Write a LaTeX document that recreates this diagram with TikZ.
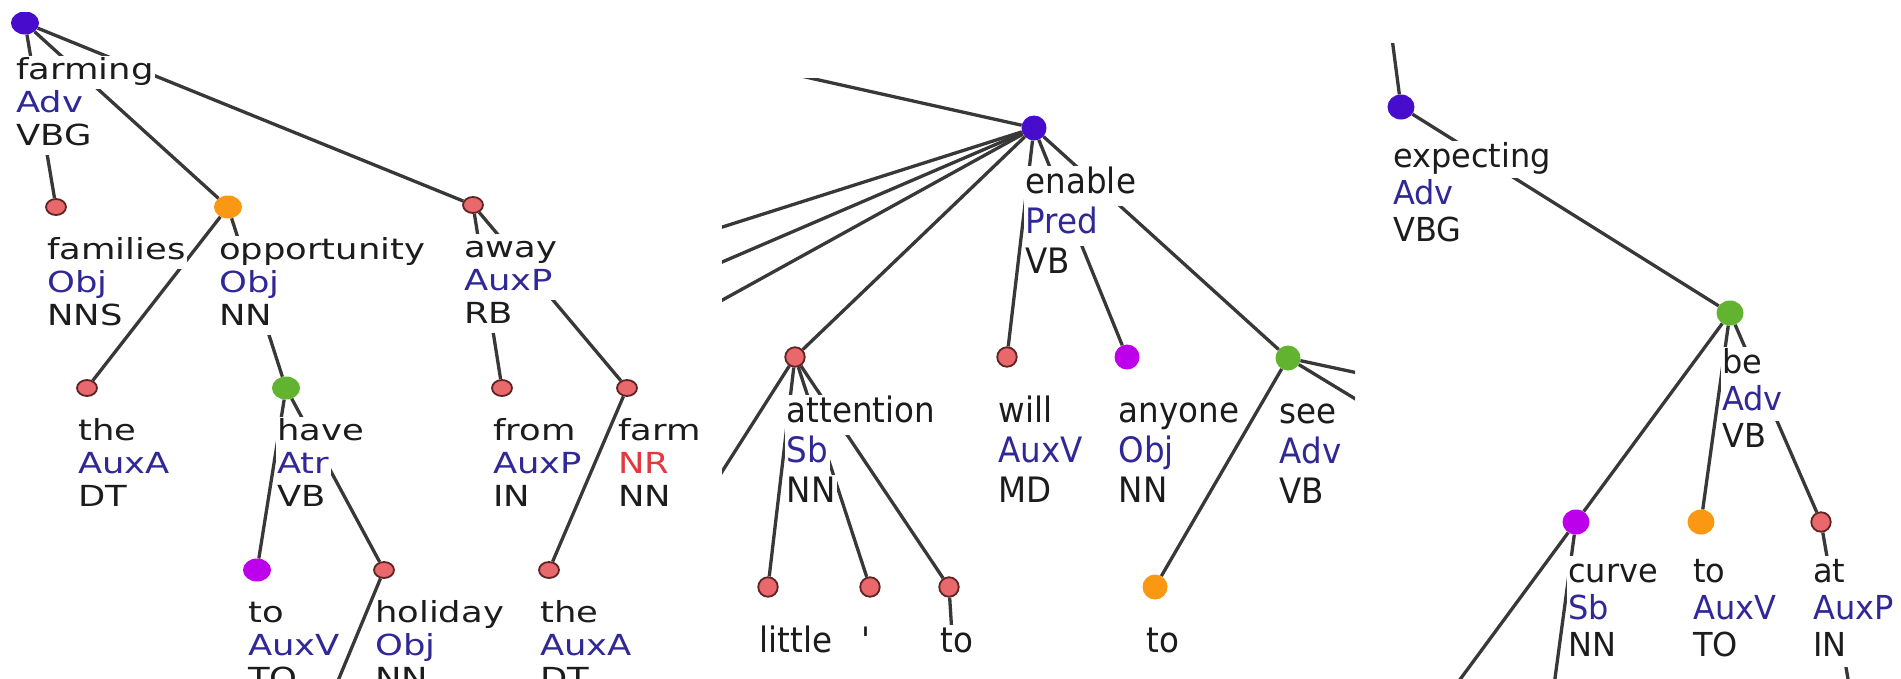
\documentclass[tikz,border=0pt]{standalone}
\usepackage{fontspec}
\usepackage{tikz}
\usetikzlibrary{positioning,shapes.geometric}

\newfontfamily\fontA[FakeStretch=1.22]{DejaVu Sans}
\newfontfamily\fontB[FakeStretch=0.93]{DejaVu Sans}
\newfontfamily\fontC[FakeStretch=0.97]{DejaVu Sans}

\definecolor{nodeblue}{RGB}{72,12,205}
\definecolor{nodered}{RGB}{232,104,108}
\definecolor{nodeline}{RGB}{95,35,35}
\definecolor{nodeorange}{RGB}{250,152,20}
\definecolor{nodegreen}{RGB}{98,180,48}
\definecolor{nodeviolet}{RGB}{188,0,235}
\definecolor{linegray}{RGB}{56,56,56}
\definecolor{wordcol}{RGB}{28,28,28}
\definecolor{funcol}{RGB}{48,40,150}
\definecolor{nrcol}{RGB}{228,55,62}

\setlength{\fboxsep}{0pt}
% one label line on a white strip
\newcommand{\wb}[1]{\colorbox{white}{\kern1.5pt\strut#1\kern1.5pt}}
% word, function, tag
\newcommand{\tri}[3]{\begin{tabular}{@{}l@{}}\wb{#1}\\\wb{\color{funcol}#2}\\\wb{#3}\end{tabular}}

\begin{document}
\begin{tikzpicture}[x=1pt, y=-1pt, every edge/.style={draw=linegray, line width=3.3pt}]
	\tikzstyle{reddot}    = [ellipse,inner sep=0pt,dotsmall,fill=nodered,draw=nodeline,line width=1.8pt]
	\tikzstyle{bluedot}   = [ellipse,inner sep=0pt,dotbig,fill=nodeblue]
	\tikzstyle{orangedot} = [ellipse,inner sep=0pt,dotbig,fill=nodeorange]
	\tikzstyle{greendot}  = [ellipse,inner sep=0pt,dotbig,fill=nodegreen]
	\tikzstyle{violetdot} = [ellipse,inner sep=0pt,dotbig,fill=nodeviolet]
	\tikzstyle{lab}       = [inner sep=0pt,text=wordcol]
	\tikzset{
		labA/.style={lab,font=\fontA\fontsize{29}{33}\selectfont,below right=28.8pt and -10.5pt of #1.center},
		labB/.style={lab,font=\fontB\fontsize{35}{40}\selectfont,below right=37.6pt and -10pt of #1.center},
		labC/.style={lab,font=\fontC\fontsize{33}{37}\selectfont,below right=34.1pt and -9.5pt of #1.center}
	}

	\useasboundingbox (0,0) rectangle (1901,678);
	\fill[white] (0,0) rectangle (1901,678);

	% left tree
	\begin{scope}[dotbig/.style={minimum width=28pt,minimum height=23pt},
	              dotsmall/.style={minimum width=20pt,minimum height=16pt}]
		\clip (0,12) rectangle (700,678);
		\node[bluedot]   (farming)     at (25,23)   {};
		\node[reddot]    (families)    at (56,207)  {};
		\node[orangedot] (opportunity) at (228,207) {};
		\node[reddot]    (away)        at (473,205) {};
		\node[reddot]    (the)         at (87,388)  {};
		\node[greendot]  (have)        at (286,388) {};
		\node[reddot]    (from)        at (502,388) {};
		\node[reddot]    (farm)        at (627,388) {};
		\node[violetdot] (toV)         at (257,570) {};
		\node[reddot]    (holiday)     at (384,570) {};
		\node[reddot]    (theB)        at (549,570) {};
		\coordinate (holiday-dn) at (330,700);

		\path (farming) edge (families);
		\path (farming) edge (opportunity);
		\path (farming) edge (away);
		\path (opportunity) edge (the);
		\path (opportunity) edge (have);
		\path (away) edge (from);
		\path (away) edge (farm);
		\path (have) edge (toV);
		\path (have) edge (holiday);
		\path (farm) edge (theB);
		\path (holiday) edge (holiday-dn);

		\node[labA=farming,yshift=-4pt] (farming-l) {\tri{farming}{Adv}{VBG}};
		\node[labA=families]    (families-l)    {\tri{families}{Obj}{NNS}};
		\node[labA=opportunity] (opportunity-l) {\tri{opportunity}{Obj}{NN}};
		\node[labA=away]        (away-l)        {\tri{away}{AuxP}{RB}};
		\node[labA=the]         (the-l)         {\tri{the}{AuxA}{DT}};
		\node[labA=have]        (have-l)        {\tri{have}{Atr}{VB}};
		\node[labA=from]        (from-l)        {\tri{from}{AuxP}{IN}};
		\node[labA=farm]        (farm-l)        {\tri{farm}{\color{nrcol}NR}{NN}};
		\node[labA=toV]         (toV-l)         {\tri{to}{AuxV}{TO}};
		\node[labA=holiday]     (holiday-l)     {\tri{holiday}{Obj}{NN}};
		\node[labA=theB]        (theB-l)        {\tri{the}{AuxA}{DT}};
	\end{scope}

	% middle tree
	\begin{scope}[dotbig/.style={minimum size=25pt},
	              dotsmall/.style={minimum size=19.5pt}]
		\clip (722,78) rectangle (1355,678);
		\node[bluedot]   (enable)    at (1034,128) {};
		\node[reddot]    (attention) at (795,357)  {};
		\node[reddot]    (will)      at (1007,357) {};
		\node[violetdot] (anyone)    at (1127,357) {};
		\node[greendot]  (see)       at (1288,358) {};
		\node[reddot]    (little)    at (768,587)  {};
		\node[reddot]    (apos)      at (870,587)  {};
		\node[reddot]    (toA)       at (949,587)  {};
		\node[orangedot] (toS)       at (1155,587) {};
		\coordinate (enable-up) at (586,28);
		\coordinate (enable-w1) at (650,250);
		\coordinate (enable-w2) at (650,293);
		\coordinate (enable-w3) at (650,340);
		\coordinate (attention-w) at (690,522);
		\coordinate (toA-dn) at (953,650);
		\coordinate (see-e1) at (1400,382);
		\coordinate (see-e2) at (1400,426);

		\path (enable) edge (enable-up);
		\path (enable) edge (enable-w1);
		\path (enable) edge (enable-w2);
		\path (enable) edge (enable-w3);
		\path (enable) edge (attention);
		\path (enable) edge (will);
		\path (enable) edge (anyone);
		\path (enable) edge (see);
		\path (attention) edge (attention-w);
		\path (attention) edge (little);
		\path (attention) edge (apos);
		\path (attention) edge (toA);
		\path (toA) edge (toA-dn);
		\path (see) edge (toS);
		\path (see) edge (see-e1);
		\path (see) edge (see-e2);

		\node[labB=enable]    (enable-l)    {\tri{enable}{Pred}{VB}};
		\node[labB=attention] (attention-l) {\tri{attention}{Sb}{NN}};
		\node[labB=will]      (will-l)      {\tri{will}{AuxV}{MD}};
		\node[labB=anyone]    (anyone-l)    {\tri{anyone}{Obj}{NN}};
		\node[labB=see]       (see-l)       {\tri{see}{Adv}{VB}};
		\node[labB=little]    (little-l)    {\wb{little}};
		\node[labB=apos]      (apos-l)      {\wb{\textquotesingle}};
		\node[labB=toA]       (toA-l)       {\wb{to}};
		\node[labB=toS]       (toS-l)       {\wb{to}};
	\end{scope}

	% right tree
	\begin{scope}[dotbig/.style={minimum width=27pt,minimum height=25pt},
	              dotsmall/.style={minimum size=19.5pt}]
		\clip (1380,43) rectangle (1901,678);
		\node[bluedot]   (expecting) at (1401,107) {};
		\node[greendot]  (be)        at (1730,313) {};
		\node[violetdot] (curve)     at (1576,522) {};
		\node[orangedot] (toB)       at (1701,522) {};
		\node[reddot]    (atP)       at (1821,522) {};
		\coordinate (expecting-up) at (1387,0);
		\coordinate (curve-dn1) at (1439,708);
		\coordinate (curve-dn2) at (1551,708);
		\coordinate (atP-dn) at (1853,708);

		\path (expecting) edge (expecting-up);
		\path (expecting) edge (be);
		\path (be) edge (curve);
		\path (be) edge (toB);
		\path (be) edge (atP);
		\path (curve) edge (curve-dn1);
		\path (curve) edge (curve-dn2);
		\path (atP) edge (atP-dn);

		\node[labC=expecting] (expecting-l) {\tri{expecting}{Adv}{VBG}};
		\node[labC=be]        (be-l)        {\tri{be}{Adv}{VB}};
		\node[labC=curve]     (curve-l)     {\tri{curve}{Sb}{NN}};
		\node[labC=toB]       (toB-l)       {\tri{to}{AuxV}{TO}};
		\node[labC=atP]       (atP-l)       {\tri{at}{AuxP}{IN}};
	\end{scope}
\end{tikzpicture}
\end{document}
